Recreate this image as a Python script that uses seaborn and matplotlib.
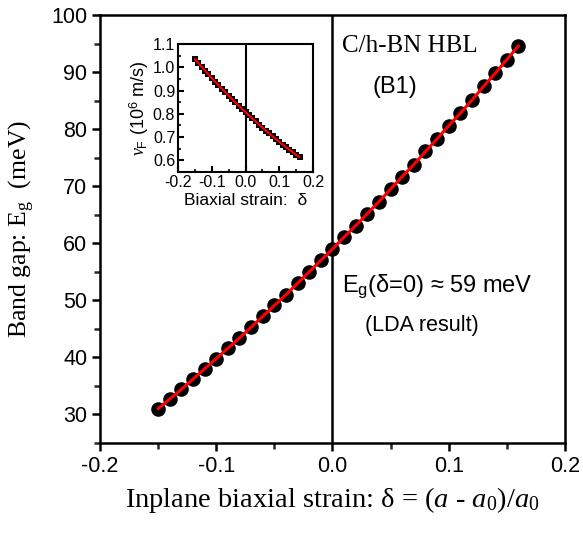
import pandas as pd
import matplotlib
matplotlib.use("Agg")
import matplotlib.pyplot as plt
from matplotlib.ticker import MultipleLocator
import seaborn as sns

# strain values (main plot and inset share the same grid)
strain = [-0.15, -0.14, -0.13, -0.12, -0.11, -0.10, -0.09, -0.08, -0.07, -0.06,
          -0.05, -0.04, -0.03, -0.02, -0.01, 0.00, 0.01, 0.02, 0.03, 0.04,
          0.05, 0.06, 0.07, 0.08, 0.09, 0.10, 0.11, 0.12, 0.13, 0.14,
          0.15, 0.16]

# band gap (meV)
band_gap = [31.0, 32.7, 34.4, 36.2, 38.0, 39.8, 41.6, 43.4, 45.3, 47.2,
            49.1, 51.0, 53.0, 55.0, 57.0, 59.0, 61.1, 63.1, 65.2, 67.3,
            69.5, 71.7, 73.8, 76.1, 78.3, 80.6, 82.8, 85.1, 87.5, 89.8,
            92.2, 94.6]

# Fermi velocity (10^6 m/s) for the inset
v_fermi = [1.035, 1.018, 1.002, 0.986, 0.970, 0.954, 0.938, 0.923, 0.908, 0.893,
           0.878, 0.863, 0.849, 0.835, 0.821, 0.807, 0.793, 0.780, 0.767, 0.754,
           0.741, 0.728, 0.716, 0.703, 0.692, 0.680, 0.668, 0.657, 0.646, 0.635,
           0.624, 0.613]

df = pd.DataFrame({"strain": strain, "gap": band_gap, "vf": v_fermi})

sns.set_theme(style="ticks")
plt.rcParams["font.family"] = ["Liberation Sans", "DejaVu Sans"]
plt.rcParams["mathtext.fontset"] = "custom"
plt.rcParams["mathtext.rm"] = "Liberation Serif"
plt.rcParams["mathtext.it"] = "Liberation Serif:italic"
plt.rcParams["axes.linewidth"] = 1.8
plt.rcParams["axes.edgecolor"] = "black"
plt.rcParams["text.color"] = "black"
plt.rcParams["axes.labelcolor"] = "black"

fig = plt.figure(figsize=(5.83, 5.37), dpi=100)
ax = fig.add_axes([0.1715, 0.175, 0.7976, 0.797])

ax.axvline(0, color="black", lw=1.8, zorder=1)
sns.scatterplot(data=df, x="strain", y="gap", ax=ax, color="black", s=110,
                edgecolor="black", linewidth=0, zorder=2)
sns.lineplot(data=df, x="strain", y="gap", ax=ax, color="red", lw=2.2, zorder=3)

ax.set_xlim(-0.2, 0.2)
ax.set_ylim(25, 100)
ax.set_xticks([-0.2, -0.1, 0.0, 0.1, 0.2])
ax.set_xticklabels(["-0.2", "-0.1", "0.0", "0.1", "0.2"])
ax.xaxis.set_minor_locator(MultipleLocator(0.05))
ax.set_yticks([30, 40, 50, 60, 70, 80, 90, 100])
ax.yaxis.set_minor_locator(MultipleLocator(5))
ax.tick_params(which="major", direction="out", length=6, width=1.8,
               labelsize=15.5, colors="black", pad=3)
ax.tick_params(which="minor", direction="out", length=4, width=1.8)

ax.set_xlabel(r"Inplane biaxial strain: δ = ($a$ - $a_{\mathregular{0}}$)/$a_{\mathregular{0}}$",
              family="Liberation Serif", fontsize=20.5, labelpad=6)
ax.set_ylabel(r"Band gap: E$_{\mathregular{g}}$  (meV)",
              family="Liberation Serif", fontsize=18.5, labelpad=10)

ax.text(0.0086, 93.5, "C/h-BN HBL", family="Liberation Serif", fontsize=18)
ax.text(0.034, 86.3, "(B1)", fontsize=17)
ax.text(0.0086, 51.5, r"E$_{\mathregular{g}}$(δ=0) ≈ 59 meV", fontsize=17)
ax.text(0.0276, 44.6, "(LDA result)", fontsize=15.5)

# inset
ins = fig.add_axes([0.3053, 0.6797, 0.2316, 0.2384])
ins.axvline(0, color="black", lw=1.5, zorder=1)
sns.scatterplot(data=df, x="strain", y="vf", ax=ins, color="black", s=16,
                marker="s", linewidth=0, zorder=2)
sns.lineplot(data=df, x="strain", y="vf", ax=ins, color="red", lw=1.5, zorder=3)
ins.set_xlim(-0.2, 0.2)
ins.set_ylim(0.55, 1.1)
ins.set_xticks([-0.2, -0.1, 0.0, 0.1, 0.2])
ins.set_xticklabels(["-0.2", "-0.1", "0.0", "0.1", "0.2"])
ins.xaxis.set_minor_locator(MultipleLocator(0.05))
ins.set_yticks([0.6, 0.7, 0.8, 0.9, 1.0, 1.1])
ins.yaxis.set_minor_locator(MultipleLocator(0.05))
for sp in ins.spines.values():
    sp.set_linewidth(1.5)
ins.tick_params(which="major", direction="in", length=4, width=1.5,
                labelsize=11.5, colors="black", pad=2)
ins.tick_params(which="minor", direction="in", length=2.5, width=1.5)
ins.set_xlabel("Biaxial strain:  δ", fontsize=12.5, labelpad=2)
ins.set_ylabel(r"$v_{\mathregular{F}}$ (10$^{\mathregular{6}}$ m/s)", fontsize=13, labelpad=1)

fig.savefig("out.png", dpi=100)
